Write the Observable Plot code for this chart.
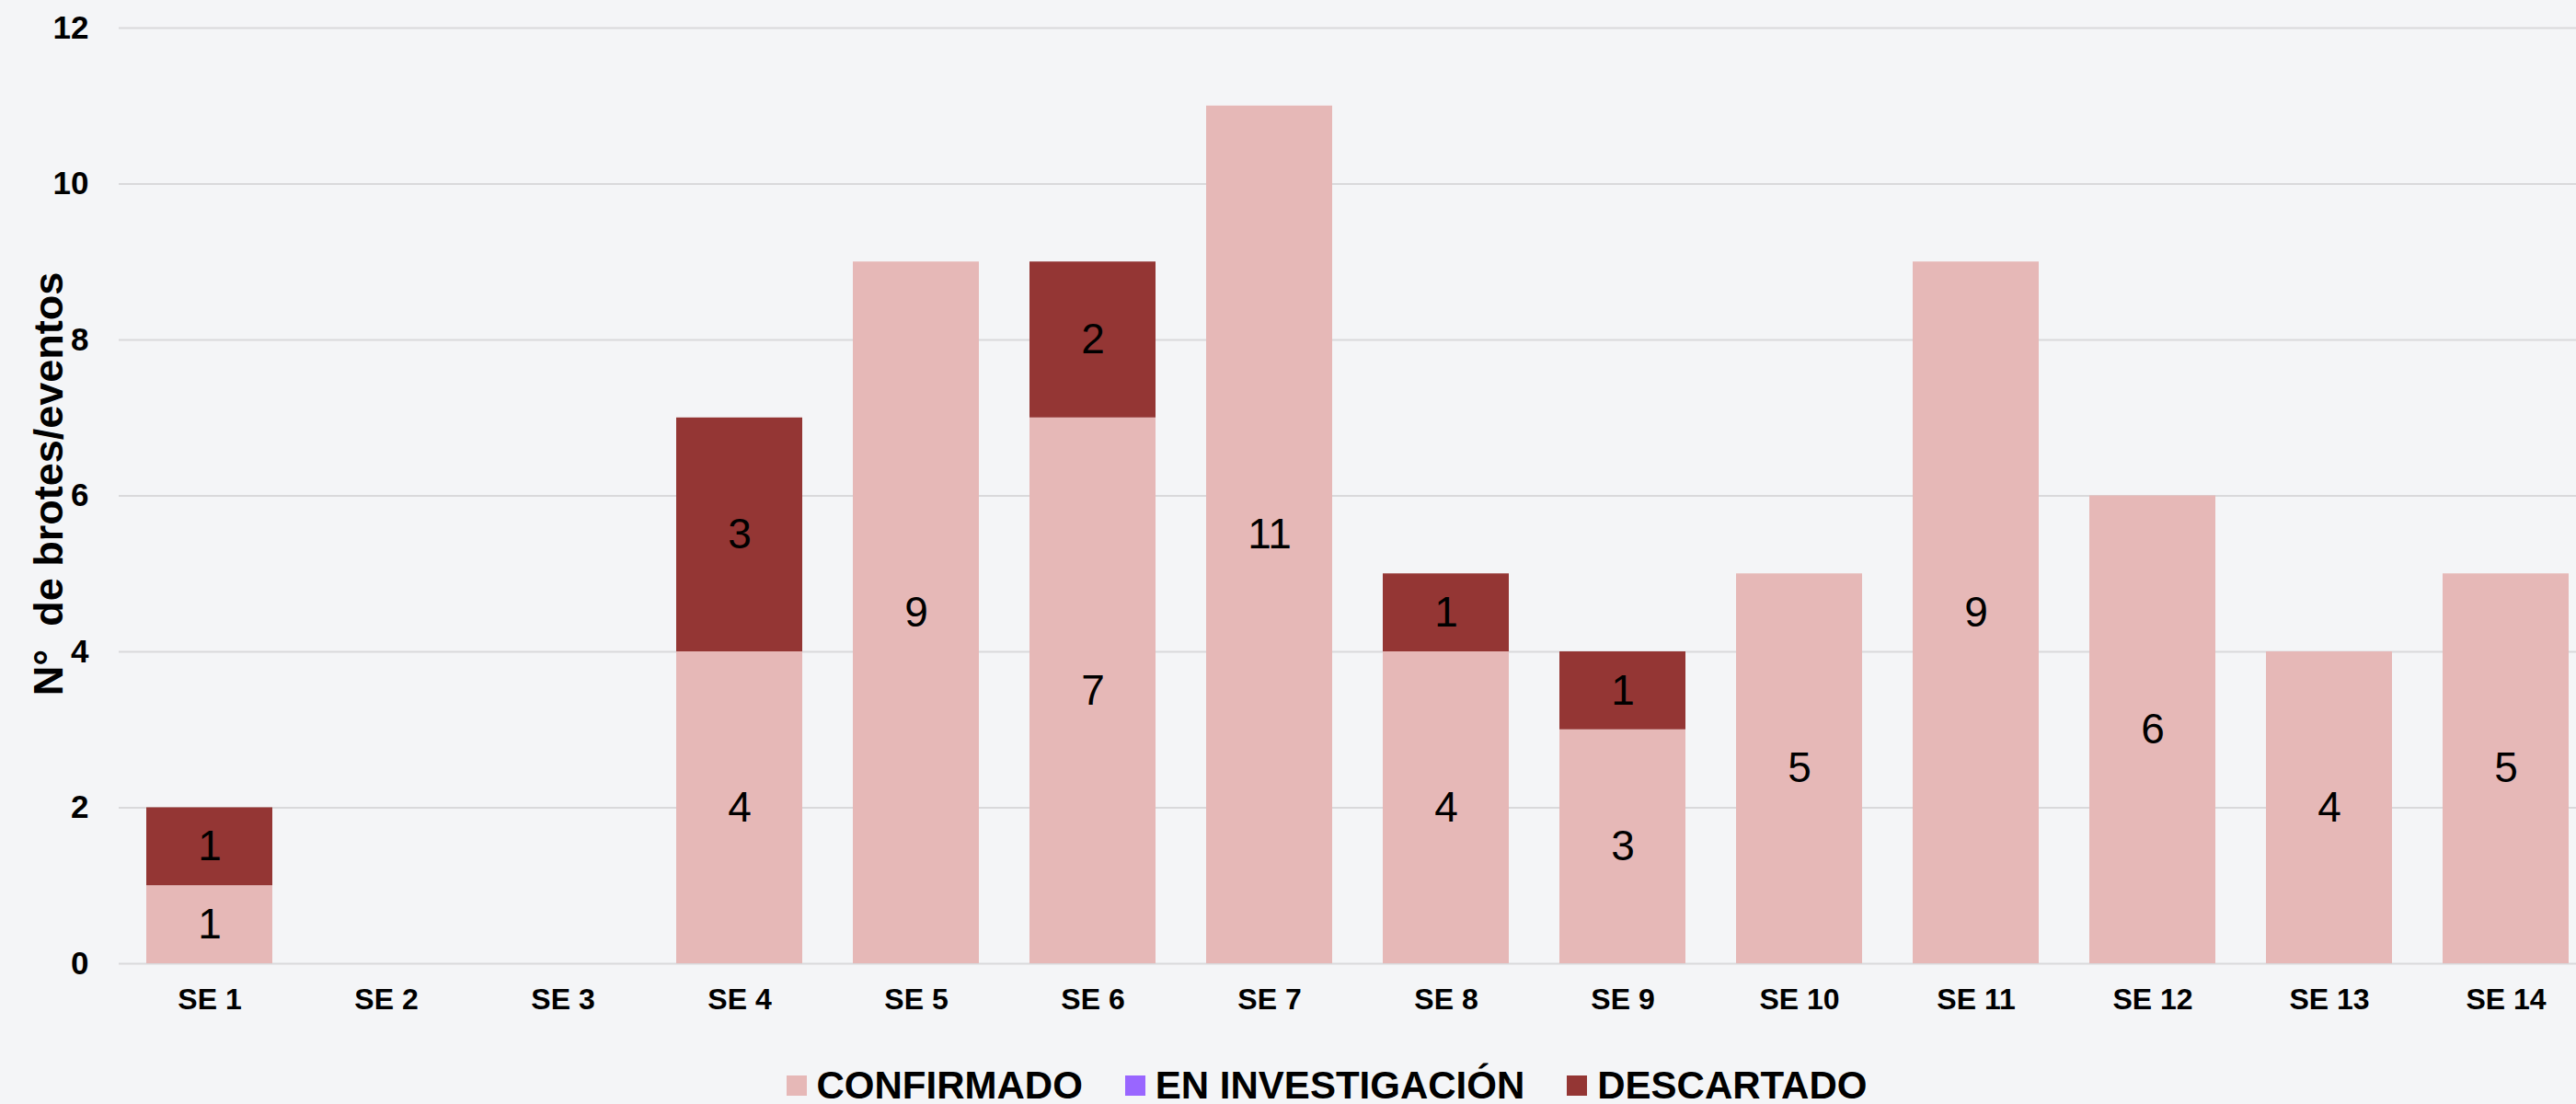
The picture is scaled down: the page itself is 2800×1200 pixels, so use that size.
<!DOCTYPE html>
<html>
<head>
<meta charset="utf-8">
<script src="https://cdn.jsdelivr.net/npm/d3@7"></script>
<script src="https://cdn.jsdelivr.net/npm/@observablehq/plot@0.6"></script>
<style>
  html, body { margin: 0; padding: 0; background: #f4f5f7; }
  body { width: 2800px; height: 1200px; overflow: hidden; font-family: "Liberation Sans", Arial, sans-serif; }
  #chart svg { display: block; }
  #legend { display: flex; justify-content: center; align-items: center; padding-top: 29px; padding-left: 84px;
            font-size: 42px; line-height: 1; font-weight: bold; color: #000; }
  .item { display: flex; align-items: center; margin: 0 23px; }
  .sw { width: 22px; height: 22px; margin-right: 11px; }
</style>
</head>
<body>
<div id="chart"></div>
<div id="legend"></div>
<script>
const weeks = ["SE 1","SE 2","SE 3","SE 4","SE 5","SE 6","SE 7","SE 8","SE 9","SE 10","SE 11","SE 12","SE 13","SE 14"];
const seriesNames = ["CONFIRMADO","EN INVESTIGACIÓN","DESCARTADO"];
const seriesColors = ["#e6b8b7","#9966ff","#943634"];
const confirmado    = [1,0,0,4,9,7,11,4,3,5,9,6,4,5];
const investigacion = [0,0,0,0,0,0,0,0,0,0,0,0,0,0];
const descartado    = [1,0,0,3,0,2,0,1,1,0,0,0,0,0];
const yTicks = [0,2,4,6,8,10,12];
const yLabel = "N°  de brotes/eventos";

const seriesValues = [confirmado, investigacion, descartado];
const rows = [];
weeks.forEach((w, i) => seriesNames.forEach((s, j) => rows.push({week: w, series: s, value: seriesValues[j][i]})));
const nonZero = rows.filter(d => d.value > 0);

const W = 2800, H = 1130;
const chart = Plot.plot({
  width: W,
  height: H,
  marginTop: 30,
  marginBottom: H - 1047,
  marginLeft: 129,
  marginRight: 0,
  style: {background: "transparent", fontFamily: "'Liberation Sans', Arial, sans-serif", color: "#000"},
  x: {domain: weeks, range: [157, 2794], paddingInner: 0.287, paddingOuter: 0, label: null},
  y: {domain: [0, 12], label: null},
  color: {domain: seriesNames, range: seriesColors, legend: false},
  marks: [
    Plot.gridY(yTicks, {stroke: "#d9d9db", strokeOpacity: 1, strokeWidth: 2}),
    Plot.barY(nonZero, Plot.stackY({x: "week", y: "value", fill: "series", order: seriesNames})),
    Plot.text(nonZero, Plot.stackY({x: "week", y: "value", z: "series", text: "value", order: seriesNames,
      fill: "#000", fontSize: 46, fontWeight: "normal"})),
    Plot.axisY({ticks: yTicks, tickSize: 0, tickPadding: 33, fontSize: 35, fontWeight: "bold", label: null}),
    Plot.axisX({tickSize: 0, tickPadding: 27, fontSize: 32, fontWeight: "bold", label: null}),
    Plot.text([yLabel], {frameAnchor: "left", dx: -76, dy: -13, rotate: -90, text: d => d,
      fontSize: 45, fontWeight: "bold", fill: "#000", textAnchor: "middle", lineAnchor: "middle"})
  ]
});
document.getElementById("chart").appendChild(chart);

const legend = document.getElementById("legend");
seriesNames.forEach((s, i) => {
  const it = document.createElement("div");
  it.className = "item";
  const sw = document.createElement("span");
  sw.className = "sw";
  sw.style.background = seriesColors[i];
  const tx = document.createElement("span");
  tx.textContent = s;
  it.appendChild(sw);
  it.appendChild(tx);
  legend.appendChild(it);
});
</script>
</body>
</html>
